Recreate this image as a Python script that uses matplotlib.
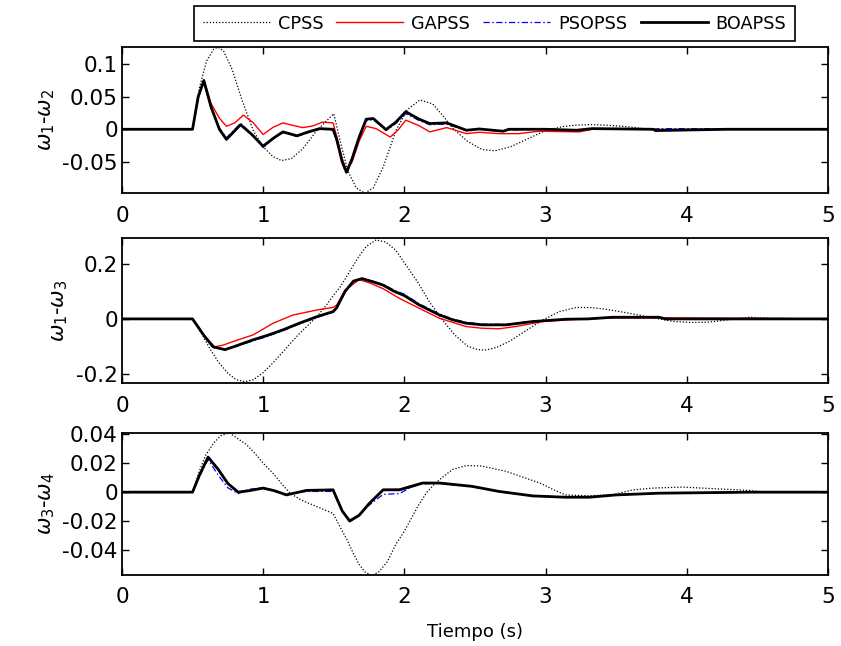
import matplotlib
matplotlib.use('Agg')
import matplotlib.pyplot as plt
from matplotlib.ticker import FormatStrFormatter

plt.rcParams['axes.unicode_minus'] = False

# ---- panel 1: w1 - w2 ----
t1_cpss = [0, 0.5, 0.55, 0.6, 0.65, 0.68, 0.72, 0.78, 0.85, 0.93, 1.0, 1.07, 1.13, 1.2, 1.28, 1.38, 1.44, 1.5, 1.55, 1.6,
           1.66, 1.72, 1.78, 1.85, 1.94, 2.02, 2.11, 2.2, 2.28, 2.35, 2.45, 2.55, 2.64, 2.75, 2.88, 3.0, 3.12, 3.22, 3.33, 3.45,
           3.58, 3.71, 3.85, 4.0, 5.0]
y1_cpss = [0, 0, 0.065, 0.105, 0.123, 0.126, 0.12, 0.092, 0.045, -0.002, -0.027, -0.042, -0.048, -0.045, -0.03, -0.002, 0.011, 0.024, -0.022, -0.064,
           -0.09, -0.098, -0.09, -0.058, -0.002, 0.03, 0.045, 0.039, 0.019, 0.0, -0.019, -0.031, -0.033, -0.027, -0.014, -0.002, 0.004, 0.0065, 0.0072, 0.006,
           0.004, 0.0005, -0.001, -0.0005, 0]
t1_ga = [0, 0.5, 0.54, 0.58, 0.63, 0.69, 0.74, 0.8, 0.86, 0.93, 1.0, 1.07, 1.14, 1.21, 1.28, 1.35, 1.42, 1.495, 1.52, 1.56,
         1.59, 1.63, 1.68, 1.73, 1.8, 1.9, 1.96, 2.01, 2.1, 2.18, 2.3, 2.44, 2.53, 2.67, 2.81, 2.95, 3.24, 3.33, 5.0]
y1_ga = [0, 0, 0.05, 0.076, 0.04, 0.017, 0.0046, 0.01, 0.0217, 0.01, -0.008, 0.003, 0.0098, 0.006, 0.0026, 0.005, 0.011, 0.0098, -0.01, -0.045,
         -0.063, -0.05, -0.018, 0.0046, 0.001, -0.012, 0.0, 0.014, 0.006, -0.004, 0.0026, -0.0067, -0.0046, -0.0067, -0.0067, -0.003, -0.004, 0, 0]
t1_pso = [0, 0.5, 0.54, 0.58, 0.63, 0.69, 0.74, 0.84, 0.92, 1.0, 1.07, 1.14, 1.24, 1.32, 1.40, 1.495, 1.52, 1.56, 1.59, 1.63,
          1.68, 1.73, 1.78, 1.87, 1.94, 2.01, 2.1, 2.18, 2.3, 2.44, 2.53, 2.7, 2.74, 3.0, 3.22, 3.33, 3.76, 3.8, 4.28, 4.32, 5.0]
y1_pso = [0, 0, 0.048, 0.072, 0.033, 0.002, -0.013, 0.009, -0.007, -0.028, -0.015, -0.005, -0.011, -0.005, 0.0, -0.001, -0.017, -0.052, -0.069, -0.047,
          -0.014, 0.013, 0.015, -0.002, 0.009, 0.024, 0.014, 0.007, 0.008, -0.002, 0.0, -0.003, -0.001, 0, -0.001, 0.001, 0, 0.001, 0.001, 0, 0]
t1_boa = [0, 0.5, 0.54, 0.58, 0.63, 0.69, 0.74, 0.84, 0.92, 1.0, 1.07, 1.14, 1.24, 1.32, 1.40, 1.495, 1.52, 1.56, 1.59, 1.63,
          1.68, 1.73, 1.78, 1.87, 1.94, 2.01, 2.1, 2.18, 2.3, 2.44, 2.53, 2.7, 2.74, 3.0, 3.22, 3.33, 3.76, 3.78, 4.28, 5.0]
y1_boa = [0, 0, 0.05, 0.0747, 0.035, 0.0, -0.0155, 0.007, -0.008, -0.026, -0.014, -0.004, -0.010, -0.004, 0.001, 0.0, -0.015, -0.05, -0.066, -0.045,
          -0.012, 0.0155, 0.0165, -0.0005, 0.011, 0.027, 0.016, 0.0088, 0.0098, -0.0015, 0.0005, -0.003, 0, 0, -0.0015, 0.001, 0, -0.002, 0, 0]

# ---- panel 2: w1 - w3 ----
t2_cpss = [0, 0.5, 0.56, 0.62, 0.68, 0.75, 0.81, 0.87, 0.93, 1.0, 1.07, 1.14, 1.2, 1.26, 1.32, 1.38, 1.44, 1.5, 1.55, 1.61,
           1.67, 1.73, 1.8, 1.87, 1.94, 2.02, 2.1, 2.18, 2.27, 2.36, 2.45, 2.52, 2.57, 2.65, 2.75, 2.87, 2.98, 3.1, 3.22, 3.33,
           3.43, 3.6, 3.8, 3.92, 4.03, 4.15, 4.25, 4.44, 4.6, 5.0]
y2_cpss = [0, 0, -0.05, -0.106, -0.155, -0.198, -0.222, -0.229, -0.222, -0.196, -0.16, -0.12, -0.085, -0.052, -0.022, 0.008, 0.045, 0.087, 0.12, 0.17,
           0.222, 0.264, 0.288, 0.28, 0.25, 0.19, 0.13, 0.06, -0.004, -0.06, -0.1, -0.112, -0.114, -0.105, -0.08, -0.04, -0.004, 0.027, 0.042, 0.041,
           0.035, 0.02, 0.0, -0.01, -0.013, -0.012, -0.006, 0.006, 0.002, 0]
t2_ga = [0, 0.5, 0.58, 0.658, 0.72, 0.79, 0.93, 1.07, 1.21, 1.38, 1.495, 1.52, 1.58, 1.68, 1.76, 1.85, 1.965, 2.106, 2.248, 2.436,
         2.55, 2.67, 2.79, 2.98, 3.26, 3.5, 3.8, 5.0]
y2_ga = [0, 0, -0.06, -0.102, -0.095, -0.082, -0.058, -0.016, 0.014, 0.0325, 0.042, 0.05, 0.105, 0.143, 0.13, 0.11, 0.075, 0.0386, 0.0024, -0.0277,
         -0.034, -0.036, -0.0277, -0.0096, 0, 0.004, 0.004, 0]
t2_pso = [0, 0.5, 0.58, 0.646, 0.73, 0.8, 0.93, 1.03, 1.14, 1.26, 1.38, 1.495, 1.52, 1.58, 1.64, 1.70, 1.78, 1.85, 1.93, 2.0,
          2.106, 2.248, 2.34, 2.436, 2.554, 2.72, 2.908, 3.144, 3.3, 3.474, 3.804, 3.85, 5.0]
y2_pso = [0, 0, -0.06, -0.104, -0.113, -0.102, -0.08, -0.064, -0.043, -0.018, 0.005, 0.024, 0.038, 0.1, 0.138, 0.148, 0.137, 0.126, 0.104, 0.09,
          0.055, 0.018, 0.0, -0.012, -0.019, -0.02, -0.009, -0.001, 0.0, 0.005, 0.005, 0, 0]
t2_boa = [0, 0.5, 0.58, 0.646, 0.73, 0.8, 0.93, 1.03, 1.14, 1.26, 1.38, 1.495, 1.52, 1.58, 1.64, 1.70, 1.78, 1.85, 1.93, 2.0,
          2.106, 2.248, 2.34, 2.436, 2.554, 2.72, 2.908, 3.144, 3.3, 3.474, 3.804, 3.85, 5.0]
y2_boa = [0, 0, -0.06, -0.102, -0.112, -0.1, -0.076, -0.06, -0.04, -0.015, 0.008, 0.0265, 0.04, 0.1, 0.138, 0.147, 0.135, 0.123, 0.1, 0.085,
          0.0506, 0.0145, -0.003, -0.0157, -0.0217, -0.0217, -0.0096, -0.0012, 0.0, 0.006, 0.006, 0, 0]

# ---- panel 3: w3 - w4 ----
t3_cpss = [0, 0.5, 0.55, 0.59, 0.65, 0.7, 0.76, 0.82, 0.88, 0.94, 1.0, 1.07, 1.13, 1.19, 1.27, 1.38, 1.495, 1.55, 1.6, 1.637,
           1.68, 1.72, 1.767, 1.82, 1.88, 1.94, 2.0, 2.1, 2.16, 2.22, 2.28, 2.34, 2.44, 2.55, 2.72, 2.85, 2.96, 3.05, 3.14, 3.3,
           3.47, 3.62, 3.76, 3.97, 4.21, 4.44, 4.56, 5.0]
y3_cpss = [0, 0, 0.015, 0.025, 0.034, 0.039, 0.041, 0.037, 0.033, 0.027, 0.02, 0.013, 0.006, -0.0007, -0.0055, -0.010, -0.0147, -0.025, -0.034, -0.042,
           -0.05, -0.055, -0.0577, -0.055, -0.048, -0.036, -0.027, -0.009, 0.0, 0.0063, 0.011, 0.0156, 0.0184, 0.018, 0.0144, 0.01, 0.0063, 0.002, -0.0019, -0.0025,
           -0.0019, 0.0016, 0.0028, 0.0035, 0.0023, 0.0012, 0, 0]
t3_ga = [0, 0.5, 0.55, 0.61, 0.68, 0.75, 0.823, 0.9, 1.0, 1.08, 1.165, 1.307, 1.495, 1.52, 1.56, 1.613, 1.68, 1.75, 1.85, 1.965,
         2.05, 2.13, 2.25, 2.48, 2.67, 2.91, 3.14, 3.31, 3.5, 3.81, 4.47, 5.0]
y3_ga = [0, 0, 0.012, 0.0238, 0.016, 0.006, 0.0002, 0.0012, 0.003, 0.001, -0.0017, 0.0012, 0.0018, -0.004, -0.013, -0.0195, -0.0155, -0.0075, 0.0018, 0.002,
         0.0045, 0.0066, 0.0064, 0.004, 0.0005, -0.0025, -0.0034, -0.0034, -0.0018, -0.0007, 0, 0]
t3_pso = [0, 0.5, 0.55, 0.61, 0.68, 0.75, 0.823, 0.9, 1.0, 1.08, 1.165, 1.307, 1.495, 1.52, 1.56, 1.613, 1.68, 1.75, 1.85, 1.965,
          2.05, 2.13, 2.25, 2.48, 2.67, 2.91, 3.14, 3.31, 3.5, 3.81, 4.2, 4.47, 5.0]
y3_pso = [0, 0, 0.011, 0.0226, 0.012, 0.003, -0.001, 0.002, 0.003, 0.0005, -0.0015, 0.0005, 0.0005, -0.005, -0.013, -0.0195, -0.016, -0.009, -0.0015, -0.001,
          0.0035, 0.0058, 0.006, 0.0038, 0.0003, -0.0026, -0.0034, -0.0034, -0.0018, -0.0007, -0.0004, 0, 0]
t3_boa = [0, 0.5, 0.55, 0.61, 0.68, 0.75, 0.823, 0.9, 1.0, 1.08, 1.165, 1.307, 1.495, 1.52, 1.56, 1.613, 1.68, 1.75, 1.85, 1.965,
          2.05, 2.13, 2.25, 2.48, 2.67, 2.91, 3.14, 3.31, 3.5, 3.81, 4.47, 5.0]
y3_boa = [0, 0, 0.012, 0.0242, 0.016, 0.006, 0.0, 0.001, 0.0028, 0.001, -0.0019, 0.0012, 0.0016, -0.004, -0.013, -0.02, -0.016, -0.008, 0.0016, 0.0016,
          0.004, 0.0063, 0.0063, 0.004, 0.0005, -0.0026, -0.0035, -0.0035, -0.0019, -0.0007, 0, 0]

labels = ['CPSS', 'GAPSS', 'PSOPSS', 'BOAPSS']
ylabels = [r'$\omega_1$-$\omega_2$', r'$\omega_1$-$\omega_3$', r'$\omega_3$-$\omega_4$']
ylims = [(-0.098, 0.126), (-0.234, 0.296), (-0.0572, 0.041)]
yticks = [[-0.05, 0, 0.05, 0.1], [-0.2, 0, 0.2], [-0.04, -0.02, 0, 0.02, 0.04]]

panels = [
    [(t1_cpss, y1_cpss), (t1_ga, y1_ga), (t1_pso, y1_pso), (t1_boa, y1_boa)],
    [(t2_cpss, y2_cpss), (t2_ga, y2_ga), (t2_pso, y2_pso), (t2_boa, y2_boa)],
    [(t3_cpss, y3_cpss), (t3_ga, y3_ga), (t3_pso, y3_pso), (t3_boa, y3_boa)],
]

styles = [
    dict(color='black', lw=0.9, ls=(0, (1, 1.5))),
    dict(color='red', lw=1.0, ls='-'),
    dict(color='blue', lw=0.9, ls=(0, (5, 2, 1.2, 2))),
    dict(color='black', lw=2.0, ls='-'),
]

fig = plt.figure(figsize=(8.41, 6.46), dpi=100)
# axes rectangles [left, bottom, width, height] in figure fractions
rects = [[0.145, 0.701, 0.8395, 0.226],
         [0.145, 0.407, 0.8395, 0.225],
         [0.145, 0.110, 0.8395, 0.220]]

handles = []
for k in range(3):
    ax = fig.add_axes(rects[k])
    for (t, y), st, lab in zip(panels[k], styles, labels):
        ln, = ax.plot(t, y, label=lab, **st)
        if k == 0:
            handles.append(ln)
    ax.set_xlim(0, 5)
    ax.set_ylim(*ylims[k])
    ax.set_xticks([0, 1, 2, 3, 4, 5])
    ax.set_yticks(yticks[k])
    ax.yaxis.set_major_formatter(FormatStrFormatter('%g'))
    ax.tick_params(direction='in', top=True, right=True, length=5, width=1.0, labelsize=15.5)
    ax.tick_params(axis='x', pad=9)
    ax.tick_params(axis='y', pad=3)
    for s in ax.spines.values():
        s.set_linewidth(1.3)
    ax.set_ylabel(ylabels[k], fontsize=15)
    if k == 2:
        ax.set_xlabel('Tiempo (s)', fontsize=13, labelpad=11)

leg = fig.legend(handles, labels, loc='center', bbox_to_anchor=(0.588, 0.9636), ncol=4,
                 fontsize=12.7, frameon=True, fancybox=False, framealpha=1, edgecolor='black',
                 handlelength=3.8, handletextpad=0.45, columnspacing=0.75, borderpad=0.5)
leg.get_frame().set_linewidth(1.2)

fig.savefig('out.png', dpi=100)
